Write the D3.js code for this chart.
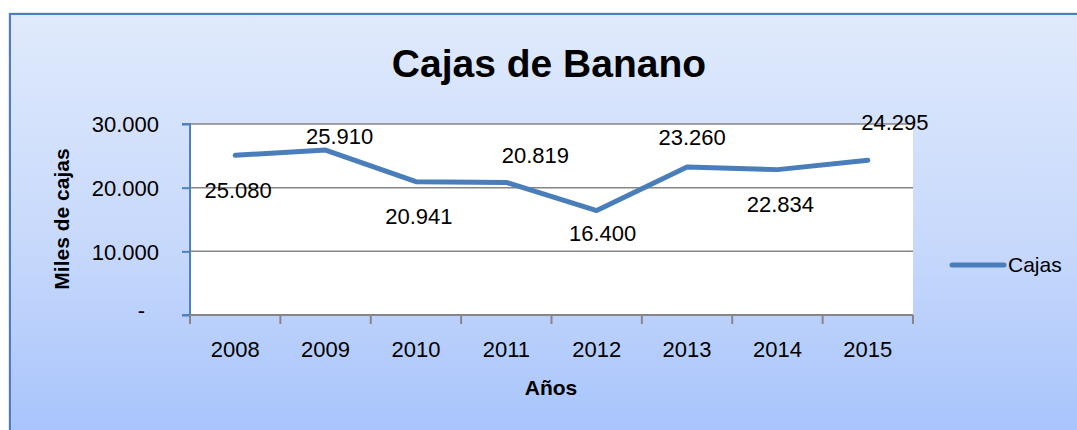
<!DOCTYPE html>
<html><head><meta charset="utf-8">
<script src="https://cdn.jsdelivr.net/npm/d3@7"></script>
<style>body{margin:0;background:#fff}svg{display:block}text{font-family:"Liberation Sans",Arial,sans-serif}</style>
</head><body>
<svg id="c" width="1077" height="430"></svg>
<script>
const years = ["2008","2009","2010","2011","2012","2013","2014","2015"];
const cajas = [25080,25910,20941,20819,16400,23260,22834,24295];
const yTicks = [0,10000,20000,30000];
const yTickLabels = ["-","10.000","20.000","30.000"];
const seriesName = "Cajas";
const title = "Cajas de Banano";
const yTitle = "Miles de cajas";
const xTitle = "Años";

// label offsets (placement only)
const labelOffsets = [[3,35],[14,-14],[3,35],[29,-27],[6,23],[5,-30],[3,35],[27,-38]];

const svg = d3.select("#c");
const defs = svg.append("defs");
const g = defs.append("linearGradient").attr("id","bg").attr("x1",0).attr("y1",0).attr("x2",0).attr("y2",1);
g.append("stop").attr("offset","0%").attr("stop-color","#e0eafc");
g.append("stop").attr("offset","55%").attr("stop-color","#c6d8fb");
g.append("stop").attr("offset","100%").attr("stop-color","#a6c3fc");

svg.append("rect").attr("x",8.5).attr("y",12.5).attr("width",1080).attr("height",430).attr("fill","none").attr("stroke","#e6e6e6").attr("stroke-width",1);
svg.append("rect").attr("x",10).attr("y",14).attr("width",1080).attr("height",430).attr("fill","url(#bg)").attr("stroke","#4a7ebf").attr("stroke-width",2);

const L=190,R=913,T=124,B=315;
const x = d3.scaleBand().domain(years).range([L,R]);
const y = d3.scaleLinear().domain([0,30000]).range([B,T]);

svg.append("rect").attr("x",L).attr("y",T).attr("width",R-L).attr("height",B-T).attr("fill","#fff");

// gridlines
svg.append("g").selectAll("line").data(yTicks.filter(d=>d>0)).join("line")
  .attr("x1",L).attr("x2",R).attr("y1",d=>y(d)).attr("y2",d=>y(d))
  .attr("stroke","#868686").attr("stroke-width",1.5);

// y axis
const yAxis = d3.axisLeft(y).tickValues(yTicks).tickSize(8).tickPadding(23)
  .tickFormat((d,i)=>yTickLabels[i]);
const ya = svg.append("g").attr("transform",`translate(${L},0)`).call(yAxis);
ya.select(".domain").attr("stroke","#4f81bd").attr("stroke-width",2).attr("d",`M-8,${T}H0V${B}H-8`);
ya.selectAll(".tick line").attr("stroke","#4f81bd").attr("stroke-width",2);
ya.selectAll(".tick text").attr("font-size",22).attr("fill","#000").attr("dy","0.35em");
ya.selectAll(".tick").filter(d=>d===0).select("text").attr("dx",-14).attr("dy","0.1em");

// x axis
const xa = svg.append("g").attr("transform",`translate(0,${B})`);
xa.append("line").attr("x1",L).attr("x2",R).attr("y1",0).attr("y2",0).attr("stroke","#868686").attr("stroke-width",2);
const bounds = years.map(d=>x(d)).concat([R]);
xa.selectAll("line.tk").data(bounds).join("line").attr("class","tk")
  .attr("x1",d=>d).attr("x2",d=>d).attr("y1",0).attr("y2",9).attr("stroke","#868686").attr("stroke-width",2);
xa.selectAll("text").data(years).join("text")
  .attr("x",d=>x(d)+x.bandwidth()/2).attr("y",42).attr("text-anchor","middle")
  .attr("font-size",22).attr("fill","#000").text(d=>d);

// line
const line = d3.line().x((d,i)=>x(years[i])+x.bandwidth()/2).y(d=>y(d));
svg.append("path").datum(cajas).attr("d",line).attr("fill","none")
  .attr("stroke","#4a7ebb").attr("stroke-width",5).attr("stroke-linecap","round").attr("stroke-linejoin","round");

// labels
svg.append("g").selectAll("text").data(cajas).join("text")
  .attr("x",(d,i)=>x(years[i])+x.bandwidth()/2+labelOffsets[i][0])
  .attr("y",(d,i)=>y(d)+labelOffsets[i][1])
  .attr("dy","0.35em").attr("text-anchor","middle").attr("font-size",22).attr("fill","#000")
  .text(d=>d3.format(",")(d).replace(/,/g,"."));

// titles
svg.append("text").attr("x",549).attr("y",77).attr("text-anchor","middle")
  .attr("font-size",39).attr("font-weight","bold").text(title);
svg.append("text").attr("transform","translate(69,219) rotate(-90)").attr("text-anchor","middle")
  .attr("font-size",21).attr("font-weight","bold").text(yTitle);
svg.append("text").attr("x",551).attr("y",395).attr("text-anchor","middle")
  .attr("font-size",21).attr("font-weight","bold").text(xTitle);

// legend
svg.append("line").attr("x1",952).attr("x2",1004).attr("y1",265).attr("y2",265)
  .attr("stroke","#4a7ebb").attr("stroke-width",5).attr("stroke-linecap","round");
svg.append("text").attr("x",1008).attr("y",265).attr("dy","0.35em").attr("font-size",21).text(seriesName);
</script>
</body></html>
